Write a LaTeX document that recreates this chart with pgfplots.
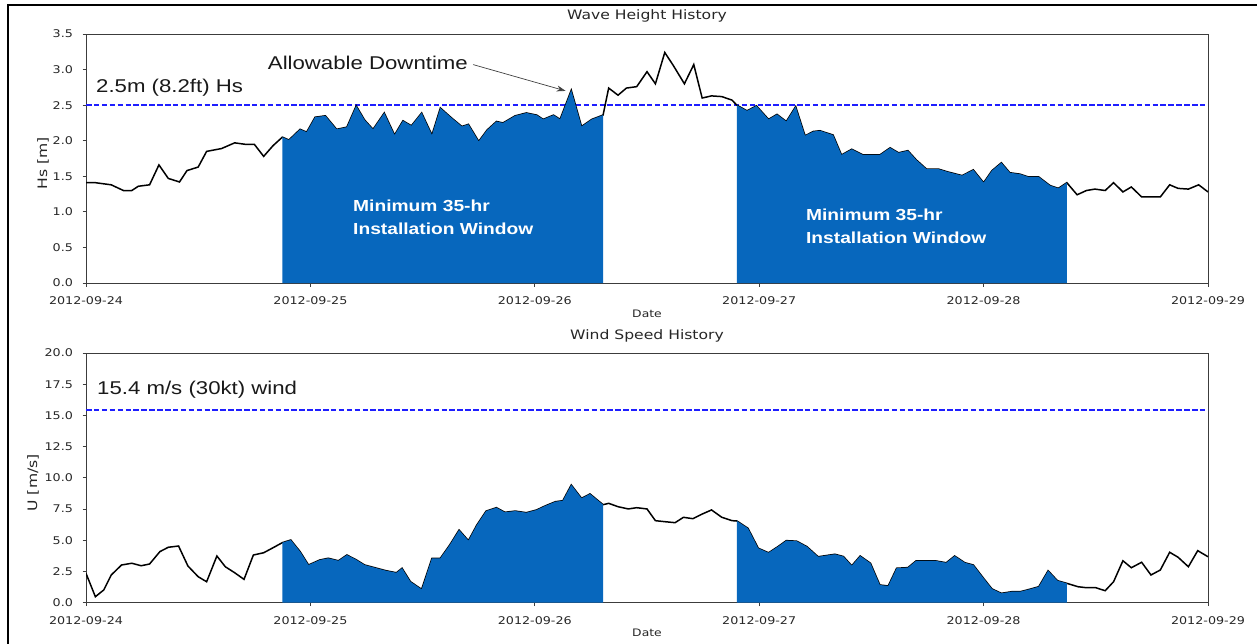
\documentclass[border=0pt]{standalone}
\usepackage{fontspec}
\setmainfont{DejaVu Sans}[FakeStretch=1.2]
\newfontfamily\annfont{Liberation Sans}[FakeStretch=1.2]
\usepackage{pgfplots}
\pgfplotsset{compat=1.18}
\usepackage{pgfplotstable}
\usetikzlibrary{arrows.meta}

\definecolor{winblue}{RGB}{7,103,189}
\definecolor{limblue}{RGB}{30,30,255}
\definecolor{axgray}{RGB}{60,60,60}

% hours after 2012-09-24 00:00, significant wave height [m]
\pgfplotstableread{
h hs
0 1.41
1 1.41
2.7 1.38
4 1.30
4.9 1.30
5.6 1.36
6.8 1.38
7.8 1.66
8.8 1.47
10 1.42
10.8 1.58
12 1.63
12.9 1.85
14.5 1.89
15.9 1.97
17 1.95
18 1.95
19 1.78
20 1.93
21 2.05
21.7 2.01
22.9 2.16
23.6 2.12
24.5 2.33
25.6 2.35
26.8 2.16
27.9 2.19
28.9 2.49
29.8 2.29
30.7 2.16
31.9 2.39
33 2.08
33.9 2.28
34.8 2.21
35.9 2.39
37 2.08
37.9 2.46
39.1 2.32
40.2 2.20
40.9 2.23
42 1.99
42.9 2.15
43.9 2.27
44.6 2.25
45.9 2.35
47.1 2.39
48.2 2.36
48.9 2.30
50 2.36
50.7 2.30
51.9 2.71
53 2.20
54.1 2.30
55.3 2.36
55.9 2.74
56.9 2.64
57.8 2.74
58.9 2.76
60 2.97
60.9 2.80
61.9 3.24
62.8 3.06
64 2.80
65 3.07
65.9 2.60
66.9 2.63
68 2.62
69.1 2.57
69.6 2.50
70.7 2.42
71.7 2.49
73 2.30
73.9 2.37
74.9 2.27
75.9 2.48
76.9 2.07
77.8 2.13
78.5 2.14
79.9 2.08
80.8 1.80
81.9 1.88
83.1 1.80
84.9 1.80
86 1.90
86.9 1.83
87.9 1.86
88.8 1.73
89.9 1.60
91.2 1.60
92.2 1.56
93.7 1.51
94.9 1.59
96 1.41
96.9 1.58
97.9 1.69
98.8 1.55
99.9 1.53
100.8 1.49
101.9 1.49
103.1 1.37
104 1.33
104.9 1.41
106 1.24
107 1.30
107.9 1.32
109 1.30
109.9 1.41
110.9 1.28
111.8 1.35
112.9 1.21
114.9 1.21
115.9 1.38
116.8 1.33
117.9 1.32
119 1.38
120 1.28
}\wave

% hours after 2012-09-24 00:00, wind speed [m/s]
\pgfplotstableread{
h u
0 2.35
1 0.48
1.9 1.02
2.7 2.22
3.8 3.02
4.9 3.16
5.9 2.96
6.8 3.10
7.9 4.09
8.8 4.44
9.9 4.54
10.9 2.94
12 2.08
12.9 1.68
14 3.74
14.9 2.88
15.9 2.40
16.9 1.87
17.9 3.82
19 4.00
19.9 4.36
21 4.81
21.9 5.02
22.9 4.09
23.8 3.02
25 3.42
25.9 3.56
27 3.36
27.9 3.82
28.8 3.48
29.8 3.02
31.1 2.76
32.1 2.56
33.2 2.40
33.8 2.76
34.7 1.68
35.9 1.07
37 3.56
37.9 3.56
38.9 4.62
39.9 5.82
40.9 4.97
41.8 6.22
42.8 7.34
43.9 7.61
44.8 7.24
45.9 7.34
47.1 7.21
48.2 7.43
49.1 7.75
50.2 8.09
51 8.17
51.9 9.43
53 8.36
53.9 8.71
55.3 7.85
55.9 7.96
56.9 7.69
58 7.51
58.9 7.61
60 7.51
60.9 6.57
61.9 6.49
63 6.41
63.9 6.84
64.9 6.73
65.9 7.10
66.9 7.43
68 6.84
69.1 6.57
69.6 6.55
70.8 5.96
71.9 4.36
73 4.00
74 4.49
74.9 4.97
76 4.93
77.1 4.49
78.3 3.68
80.1 3.88
81 3.70
81.9 2.96
82.8 3.74
83.9 3.16
84.9 1.42
85.8 1.34
86.7 2.76
87.9 2.81
88.8 3.36
90.8 3.36
92 3.20
92.9 3.74
94 3.20
94.9 3.02
96 1.95
96.9 1.10
97.9 0.75
99 0.88
99.9 0.88
100.9 1.07
101.9 1.28
102.9 2.56
103.9 1.76
104.9 1.55
106.1 1.28
107 1.20
108 1.20
109 0.96
109.9 1.68
110.9 3.36
111.8 2.80
112.9 3.24
113.9 2.22
114.9 2.62
115.9 4.04
116.8 3.64
117.9 2.88
118.9 4.17
120 3.68
}\wind

\pgfplotsset{
  histax/.style={
    scale only axis,
    width=1122pt,
    xmin=0, xmax=120,
    xtick={0,24,48,72,96,120},
    xticklabels={2012-09-24,2012-09-25,2012-09-26,2012-09-27,2012-09-28,2012-09-29},
    tick align=outside,
    tickpos=left,
    major tick length=3.5pt,
    axis line style={axgray, line width=0.8pt},
    every tick/.style={axgray, line width=0.8pt},
    tick label style={font=\fontsize{10.6}{12}\selectfont, text=black!85},
    x tick label style={yshift=-7pt},
    y tick label style={xshift=-6pt},
    /pgf/number format/assume math mode=true,
    yticklabel style={/pgf/number format/fixed, /pgf/number format/fixed zerofill, /pgf/number format/precision=1},
    title style={at={(axis description cs:0.5,1)}, anchor=base, yshift=8pt, font=\fontsize{13}{15}\selectfont, text=black!85},
    xlabel=Date,
    xlabel style={at={(axis description cs:0.5,0)}, anchor=base, yshift=-34pt, font=\fontsize{10.3}{12}\selectfont, text=black!85},
    ylabel style={anchor=center, font=\fontsize{13}{15}\selectfont, text=black!85},
  },
  limit/.style={limblue, line width=1.5pt, dash pattern=on 5.5pt off 2.4pt},
  series/.style={black, line width=1.5pt},
  window/.style={fill=winblue, draw=none},
}
\tikzset{
  ann/.style={inner sep=0pt, text=black!90, font=\annfont\fontsize{18.5}{22}\selectfont},
  wintext/.style={inner sep=0pt, anchor=west, align=left, text=white, font=\annfont\bfseries\fontsize{16}{23}\selectfont},
}

\begin{document}
\begin{tikzpicture}
\path[use as bounding box] (0,0) rectangle (1257pt,-644pt);
\draw[black, line width=2pt] (8pt,-660pt) -- (8pt,-5pt) -- (1270pt,-5pt);

\begin{axis}[histax,
  at={(86pt,-283pt)}, height=249pt,
  ymin=0, ymax=3.5, ytick={0,0.5,1,1.5,2,2.5,3,3.5},
  title={Wave Height History},
  ylabel={Hs [m]}, ylabel style={at={(axis description cs:-0.0383,0.48)}},
]
\addplot[limit] coordinates {(0,2.5) (120,2.5)};
\addplot[series] table[x=h, y=hs] {\wave};
\addplot[window, restrict x to domain=20.95:55.35] table[x=h, y=hs] {\wave} \closedcycle;
\addplot[window, restrict x to domain=69.55:104.95] table[x=h, y=hs] {\wave} \closedcycle;
\node[ann, anchor=west] at (axis cs:1.07,2.74) {2.5m (8.2ft) Hs};
\node[ann, anchor=east] at (axis cs:40.86,3.09) {Allowable Downtime};
\draw[-{Stealth[length=9pt,width=6pt]}, black!75, line width=0.7pt] (axis cs:41.4,3.07) -- (axis cs:51.3,2.70);
\node[wintext] at (axis cs:28.56,0.93) {Minimum 35-hr\\Installation Window};
\node[wintext] at (axis cs:77.0,0.80) {Minimum 35-hr\\Installation Window};
\end{axis}

\begin{axis}[histax,
  at={(86pt,-602.7pt)}, height=249.7pt,
  ymin=0, ymax=20, ytick={0,2.5,5,7.5,10,12.5,15,17.5,20},
  title={Wind Speed History},
  ylabel={U [m/s]}, ylabel style={at={(axis description cs:-0.0472,0.48)}},
]
\addplot[limit] coordinates {(0,15.43) (120,15.43)};
\addplot[series] table[x=h, y=u] {\wind};
\addplot[window, restrict x to domain=20.95:55.35] table[x=h, y=u] {\wind} \closedcycle;
\addplot[window, restrict x to domain=69.55:104.95] table[x=h, y=u] {\wind} \closedcycle;
\node[ann, anchor=west] at (axis cs:1.18,17.04) {15.4 m/s (30kt) wind};
\end{axis}
\end{tikzpicture}
\end{document}
